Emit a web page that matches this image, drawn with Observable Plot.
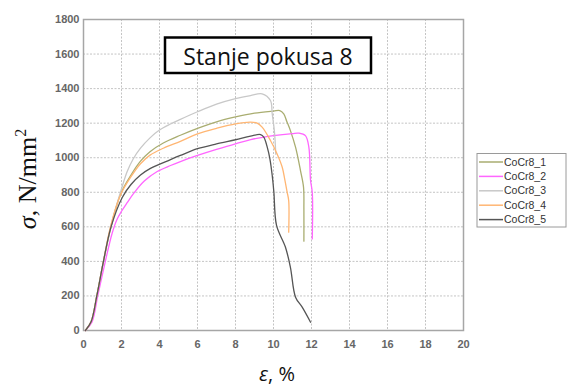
<!DOCTYPE html>
<html>
<head>
<meta charset="utf-8">
<script src="https://cdn.jsdelivr.net/npm/d3@7"></script>
<script src="https://cdn.jsdelivr.net/npm/@observablehq/plot@0.6"></script>
<style>
  html, body { margin: 0; padding: 0; background: #fff; }
  #chart { position: relative; width: 574px; height: 387px; }
</style>
</head>
<body>
<div id="chart"></div>
<script>
const titleText = "Stanje pokusa 8";
const seriesNames = ["CoCr8_1", "CoCr8_2", "CoCr8_3", "CoCr8_4", "CoCr8_5"];
const seriesColors = ["#a9ad70", "#ff66ff", "#c8c8c8", "#ffb673", "#555555"];
const xTicks = [0, 2, 4, 6, 8, 10, 12, 14, 16, 18, 20];
const yTicks = [0, 200, 400, 600, 800, 1000, 1200, 1400, 1600, 1800];

// strain (%) and stress (N/mm2) per specimen
const strain1 = [0.1, 0.4, 0.7, 1.05, 1.45, 1.95, 2.5, 3.0, 3.5, 4.2, 5.1, 6, 7, 8, 9, 10, 10.33, 10.54, 10.7, 10.89, 11.16, 11.42, 11.58, 11.6, 11.6];
const stress1 = [0, 50, 200, 400, 600, 790, 900, 980, 1035, 1085, 1130, 1170, 1208, 1236, 1258, 1270, 1273, 1254, 1210, 1157, 1061, 926, 830, 700, 517];

const strain2 = [0.1, 0.45, 0.75, 1.15, 1.5, 1.75, 2.0, 2.3, 2.65, 3.2, 3.88, 4.58, 5.1, 6, 7, 8, 8.8, 10, 11, 11.33, 11.68, 11.86, 11.95, 12.04, 12.04];
const stress2 = [0, 50, 200, 400, 560, 640, 690, 740, 795, 865, 920, 955, 978, 1013, 1048, 1080, 1105, 1128, 1140, 1142, 1128, 1061, 868, 800, 530];

const strain3 = [0.1, 0.4, 0.7, 1.05, 1.45, 2.0, 2.3, 2.6, 3.0, 3.5, 4.0, 4.58, 5.1, 6, 7, 8, 8.79, 9.4, 9.84, 9.93, 10.05, 10.12];
const stress3 = [0, 50, 200, 400, 610, 820, 920, 990, 1055, 1115, 1160, 1195, 1222, 1266, 1310, 1342, 1360, 1370, 1331, 1256, 1150, 1020];

const strain4 = [0.1, 0.4, 0.7, 1.05, 1.42, 1.95, 2.5, 3.0, 3.5, 4.2, 5.1, 6, 7, 8, 8.79, 9.14, 9.4, 9.84, 10.19, 10.46, 10.6, 10.72, 10.8, 10.8];
const stress4 = [0, 50, 200, 400, 600, 785, 890, 965, 1015, 1055, 1095, 1138, 1170, 1196, 1206, 1200, 1177, 1100, 1022, 945, 870, 800, 752, 569];

const strain5 = [0.1, 0.4, 0.7, 1.05, 1.45, 2.04, 2.5, 3.0, 3.5, 4.58, 5.1, 6, 7, 8, 8.79, 9.32, 9.49, 9.67, 9.81, 9.93, 10.02, 10.16, 10.63, 10.89, 11.16, 11.51, 11.95];
const stress5 = [0, 50, 200, 400, 600, 770, 845, 900, 937, 989, 1013, 1052, 1080, 1104, 1125, 1134, 1119, 1061, 994, 900, 800, 608, 482, 366, 193, 135, 48];

const strains = [strain1, strain2, strain3, strain4, strain5];
const stresses = [stress1, stress2, stress3, stress4, stress5];

const rows = [];
seriesNames.forEach((name, i) => {
  strains[i].forEach((x, j) => rows.push({series: name, x, y: stresses[i][j]}));
});

const W = 574, H = 387;
const mL = 83, mR = 111, mT = 19, mB = 57;

const chart = Plot.plot({
  width: W,
  height: H,
  marginLeft: mL,
  marginRight: mR,
  marginTop: mT,
  marginBottom: mB,
  style: {fontFamily: "'Liberation Sans', Arial, sans-serif", fontSize: "11px", background: "#fff"},
  x: {domain: [0, 20]},
  y: {domain: [0, 1800]},
  color: {domain: seriesNames, range: seriesColors},
  marks: [
    Plot.gridX(xTicks, {stroke: "#c4c4c4", strokeOpacity: 1, strokeDasharray: "2,1.5"}),
    Plot.gridY(yTicks, {stroke: "#c4c4c4", strokeOpacity: 1, strokeDasharray: "2,1.5"}),
    Plot.frame({stroke: "#a6a6a6", strokeWidth: 1.5}),
    Plot.axisX(xTicks, {tickSize: 0, tickPadding: 10, label: null, fill: "#666", fontWeight: "bold", fontSize: 11, tickFormat: d3.format("d")}),
    Plot.axisY(yTicks, {tickSize: 0, tickPadding: 4, label: null, fill: "#666", fontWeight: "bold", fontSize: 11, tickFormat: d3.format("d")}),
    Plot.line(rows, {x: "x", y: "y", z: "series", stroke: "series", strokeWidth: 1.3, curve: "catmull-rom"})
  ]
});

document.getElementById("chart").appendChild(chart);

const svg = d3.select(chart);

// Title box
const tg = svg.append("g");
tg.append("rect").attr("x", 165).attr("y", 37.5).attr("width", 206).attr("height", 35.5)
  .attr("fill", "#fff").attr("stroke", "#000").attr("stroke-width", 2.5);
tg.append("text").attr("x", 268).attr("y", 64.5).attr("text-anchor", "middle")
  .attr("font-family", "'Open Sans', sans-serif").attr("font-size", 23).attr("fill", "#111")
  .text(titleText);

// Y axis label
const yl = svg.append("text")
  .attr("transform", "translate(36,179) rotate(-90)")
  .attr("text-anchor", "middle")
  .attr("font-family", "'Liberation Serif', 'Times New Roman', serif")
  .attr("font-size", 26).attr("fill", "#111");
yl.append("tspan").attr("font-style", "italic").text("σ");
yl.append("tspan").text(", N/mm");
yl.append("tspan").attr("font-size", 16).attr("dy", -10).text("2");

// X axis label
const xl = svg.append("text")
  .attr("x", 277).attr("y", 381).attr("text-anchor", "middle")
  .attr("font-family", "'Open Sans', sans-serif")
  .attr("font-size", 20).attr("fill", "#111");
xl.append("tspan").attr("font-style", "italic").text("ε");
xl.append("tspan").text(", %");

// Legend
const lg = svg.append("g").attr("text-anchor", "start");
lg.append("rect").attr("x", 477).attr("y", 153.5).attr("width", 89).attr("height", 73.5)
  .attr("fill", "#fff").attr("stroke", "#9a9a9a").attr("stroke-width", 1);
seriesNames.forEach((name, i) => {
  const yy = 162 + i * 14.4;
  lg.append("line").attr("x1", 479).attr("x2", 503).attr("y1", yy).attr("y2", yy)
    .attr("stroke", seriesColors[i]).attr("stroke-width", 1.5);
  lg.append("text").attr("x", 504).attr("y", yy).attr("dy", "0.35em")
    .attr("text-anchor", "start")
    .attr("font-family", "'Liberation Sans', Arial, sans-serif").attr("font-size", 10.5)
    .attr("fill", "#333").text(name);
});
</script>
</body>
</html>
